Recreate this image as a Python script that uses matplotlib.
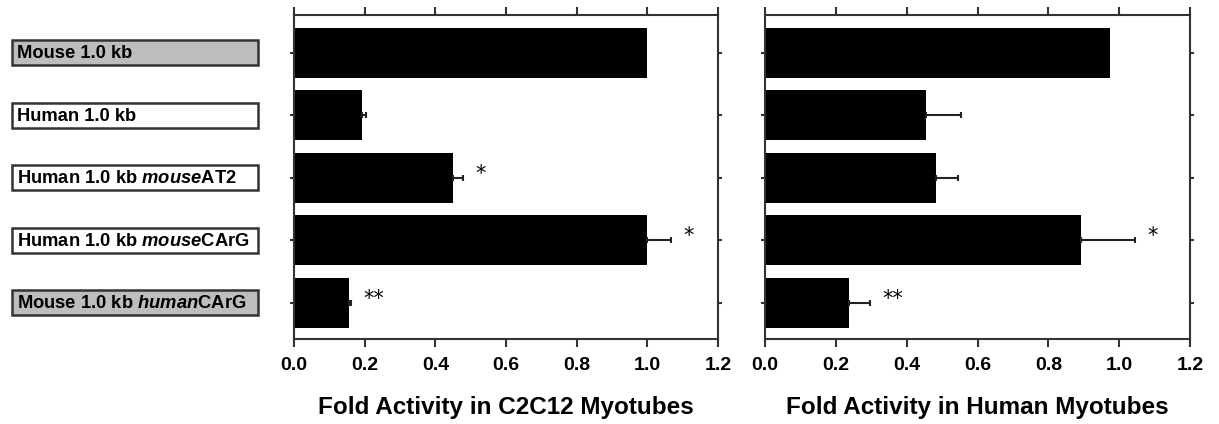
import matplotlib
matplotlib.use("Agg")
import matplotlib.pyplot as plt
import matplotlib.transforms as mtransforms
from matplotlib.patches import Rectangle

plt.rcParams['font.family'] = ['Liberation Sans', 'DejaVu Sans']

constructs = ["Mouse 1.0 kb", "Human 1.0 kb", "Human 1.0 kb mouseAT2",
              "Human 1.0 kb mouseCArG", "Mouse 1.0 kb humanCArG"]
# mathtext pieces so the species word is italic
label_text = [r"Mouse 1.0 kb", r"Human 1.0 kb",
              r"Human 1.0 kb $\mathbfit{mouse}$AT2",
              r"Human 1.0 kb $\mathbfit{mouse}$CArG",
              r"Mouse 1.0 kb $\mathbfit{human}$CArG"]
box_fill = ["#bdbdbd", "white", "white", "white", "#bdbdbd"]

c2c12 = [1.0, 0.193, 0.449, 1.0, 0.155]
c2c12_err = [0.0, 0.012, 0.028, 0.067, 0.006]
c2c12_sig = ["", "", "*", "*", "**"]

human = [0.974, 0.454, 0.483, 0.892, 0.236]
human_err = [0.0, 0.099, 0.062, 0.153, 0.06]
human_sig = ["", "", "", "*", "**"]

plt.rcParams['mathtext.fontset'] = 'custom'
plt.rcParams['mathtext.bfit'] = 'Liberation Sans:italic:bold'

fig = plt.figure(figsize=(12.19, 4.24), dpi=100)
ax1 = fig.add_axes([0.2412, 0.2005, 0.3478, 0.7641])
ax2 = fig.add_axes([0.6276, 0.2005, 0.3486, 0.7641])

ypos = list(range(len(constructs)))

for ax, vals, errs, sig, xlab in [(ax1, c2c12, c2c12_err, c2c12_sig, "Fold Activity in C2C12 Myotubes"),
                                  (ax2, human, human_err, human_sig, "Fold Activity in Human Myotubes")]:
    ax.barh(ypos, vals, height=0.8, color="black")
    # only bars that carry an error value get a whisker
    ey = [y for y, e in zip(ypos, errs) if e > 0]
    ev = [v for v, e in zip(vals, errs) if e > 0]
    ee = [e for e in errs if e > 0]
    ax.errorbar(ev, ey, xerr=[[0] * len(ee), ee], fmt="none", ecolor="#222222",
                elinewidth=1.5, capsize=2, capthick=1.5)
    for y, v, e, s in zip(ypos, vals, errs, sig):
        if s:
            ax.text(v + e + 0.035, y - 0.06, s, fontsize=15, ha="left", va="center",
                    family="DejaVu Sans")
    ax.set_xlim(0, 1.2)
    ax.set_ylim(4.58, -0.6)
    ax.set_xticks([0.0, 0.2, 0.4, 0.6, 0.8, 1.0, 1.2])
    ax.set_xticklabels(["0.0", "0.2", "0.4", "0.6", "0.8", "1.0", "1.2"],
                       fontsize=14, fontweight="bold")
    ax.set_yticks(ypos)
    ax.set_yticklabels([])
    ax.tick_params(axis="x", direction="out", length=6, width=1.5, color="#333333", pad=7)
    ax.tick_params(axis="x", top=True, labeltop=False)
    ax.tick_params(axis="y", direction="out", length=3, width=1.5, right=True,
                   color="#333333")
    for sp in ax.spines.values():
        sp.set_linewidth(1.5)
        sp.set_color("#333333")
    ax.set_xlabel(xlab, fontsize=17.5, fontweight="bold", labelpad=16)

# construct name boxes on the left
trans = mtransforms.blended_transform_factory(fig.transFigure, ax1.transData)
for y, txt, fc in zip(ypos, label_text, box_fill):
    r = Rectangle((12 / 1219, y - 0.2), 246 / 1219, 0.4, transform=trans,
                  facecolor=fc, edgecolor="#333333", linewidth=1.8, clip_on=False)
    ax1.add_patch(r)
    ax1.text(17 / 1219, y + 0.02, txt, transform=trans, fontsize=13.2,
             fontweight="bold", ha="left", va="center", clip_on=False)

fig.savefig("out.png", dpi=100)
